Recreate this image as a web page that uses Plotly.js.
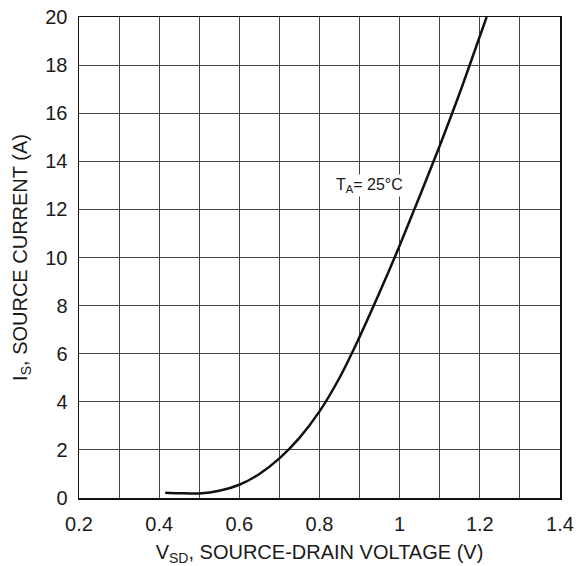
<!DOCTYPE html>
<html>
<head>
<meta charset="utf-8">
<script src="https://cdn.plot.ly/plotly-3.0.1.min.js"></script>
<style>html,body{margin:0;padding:0;background:#fff;}#chart{width:585px;height:566px;}</style>
</head>
<body>
<div id="chart"></div>
<script>
const vsd = [0.415, 0.45, 0.5, 0.55, 0.6, 0.65, 0.7, 0.75, 0.8, 0.85, 0.9, 0.95, 1.0, 1.05, 1.1, 1.15, 1.2, 1.217];
const is  = [0.22, 0.2, 0.19, 0.3, 0.55, 1.0, 1.65, 2.5, 3.6, 5.0, 6.7, 8.55, 10.5, 12.55, 14.65, 16.85, 19.2, 20.0];
const xTicks = [0.2, 0.4, 0.6, 0.8, 1, 1.2, 1.4];
const xTickText = ['0.2', '0.4', '0.6', '0.8', '1', '1.2', '1.4'];
const xMinorGrid = [0.3, 0.5, 0.7, 0.9, 1.1, 1.3];
const yTicks = [0, 2, 4, 6, 8, 10, 12, 14, 16, 18, 20];
const annotationText = 'T<sub>A</sub>= 25°C';

const font = {family: 'Liberation Sans, Arial, sans-serif', color: '#1a1a1a'};

const trace = {
  x: vsd, y: is, mode: 'lines', type: 'scatter',
  line: {color: '#111', width: 2.5, shape: 'spline', smoothing: 1},
  hoverinfo: 'skip'
};

const layout = {
  width: 585, height: 566,
  margin: {l: 79, r: 25, t: 17, b: 68},
  paper_bgcolor: '#fff', plot_bgcolor: '#fff',
  showlegend: false,
  font: Object.assign({size: 20}, font),
  xaxis: {
    range: [0.2, 1.4], tickvals: xTicks, ticktext: xTickText,
    showgrid: true, gridcolor: '#444', gridwidth: 1,
    minor: {tickvals: xMinorGrid, showgrid: true, gridcolor: '#444', gridwidth: 1},
    zeroline: false, showline: true, linecolor: '#111', linewidth: 1.5, mirror: true,
    ticks: 'outside', ticklen: 7, tickcolor: 'rgba(0,0,0,0)',
    tickfont: Object.assign({size: 20}, font),
    title: {text: 'V<sub>SD</sub>, SOURCE-DRAIN VOLTAGE (V)', font: Object.assign({size: 20}, font), standoff: 12}
  },
  yaxis: {
    range: [0, 20], tickvals: yTicks,
    showgrid: true, gridcolor: '#444', gridwidth: 1,
    zeroline: false, showline: true, linecolor: '#111', linewidth: 1.5, mirror: true,
    ticks: 'outside', ticklen: 6, tickcolor: 'rgba(0,0,0,0)',
    tickfont: Object.assign({size: 20}, font),
    title: {text: 'I<sub>S</sub>, SOURCE CURRENT (A)', font: Object.assign({size: 20}, font), standoff: 12}
  },
  annotations: [{
    x: 0.924, y: 13.0, xref: 'x', yref: 'y', text: annotationText, showarrow: false,
    font: Object.assign({size: 16}, font), bgcolor: '#fff', borderpad: 1
  }]
};

Plotly.newPlot('chart', [trace], layout, {staticPlot: true, displayModeBar: false});
</script>
</body>
</html>
